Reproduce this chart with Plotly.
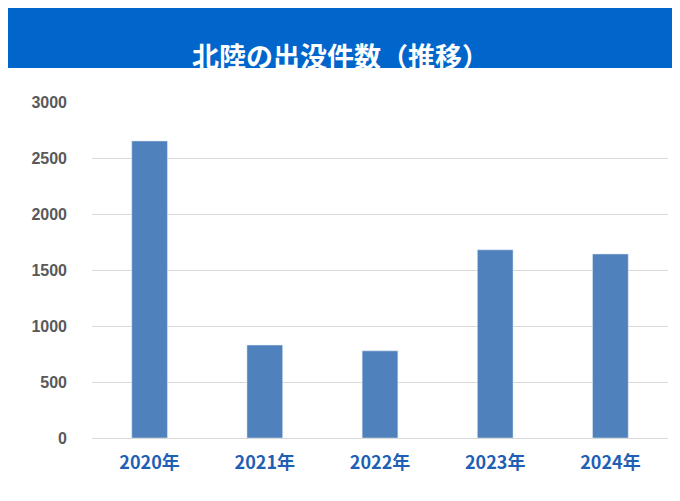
import plotly.graph_objects as go

categories = ["2020年", "2021年", "2022年", "2023年", "2024年"]
values = [2652, 830, 778, 1680, 1643]
yticks = [0, 500, 1000, 1500, 2000, 2500, 3000]

W, H = 576, 336
fig = go.Figure(go.Bar(x=categories, y=values, marker_color="#4F81BD", width=0.31))
fig.update_layout(
    width=680, height=501,
    paper_bgcolor="white", plot_bgcolor="white",
    margin=dict(l=84, r=20, t=94, b=71),
    font=dict(family="Noto Sans CJK JP"),
    showlegend=False,
    shapes=[
        dict(type="rect", xref="paper", yref="paper", x0=-84/W, x1=1+20/W,
             y0=1+(94-60)/H, y1=1+94/H, fillcolor="#0066CC", line_width=0, layer="below"),
    ],
    annotations=[dict(text="<b>北陸の出没件数（推移）</b>", xref="paper", yref="paper",
                      x=(332-84)/W, y=1+(94-26)/H, showarrow=False,
                      font=dict(size=27, color="white", family="Noto Sans CJK JP"))],
)
fig.update_yaxes(range=[0, 3000], tickvals=yticks, gridcolor="#D9D9D9", zeroline=False,
                 showline=False, ticks="", ticklabelstandoff=24,
                 tickfont=dict(size=16, color="#595959", family="Liberation Sans", weight="bold"))
fig.update_xaxes(showline=True, linecolor="#D9D9D9", ticks="", ticklabelstandoff=8,
                 tickfont=dict(size=18, color="#1F5FB5", family="Noto Sans CJK JP", weight="bold"))
fig.write_html("out.html")
